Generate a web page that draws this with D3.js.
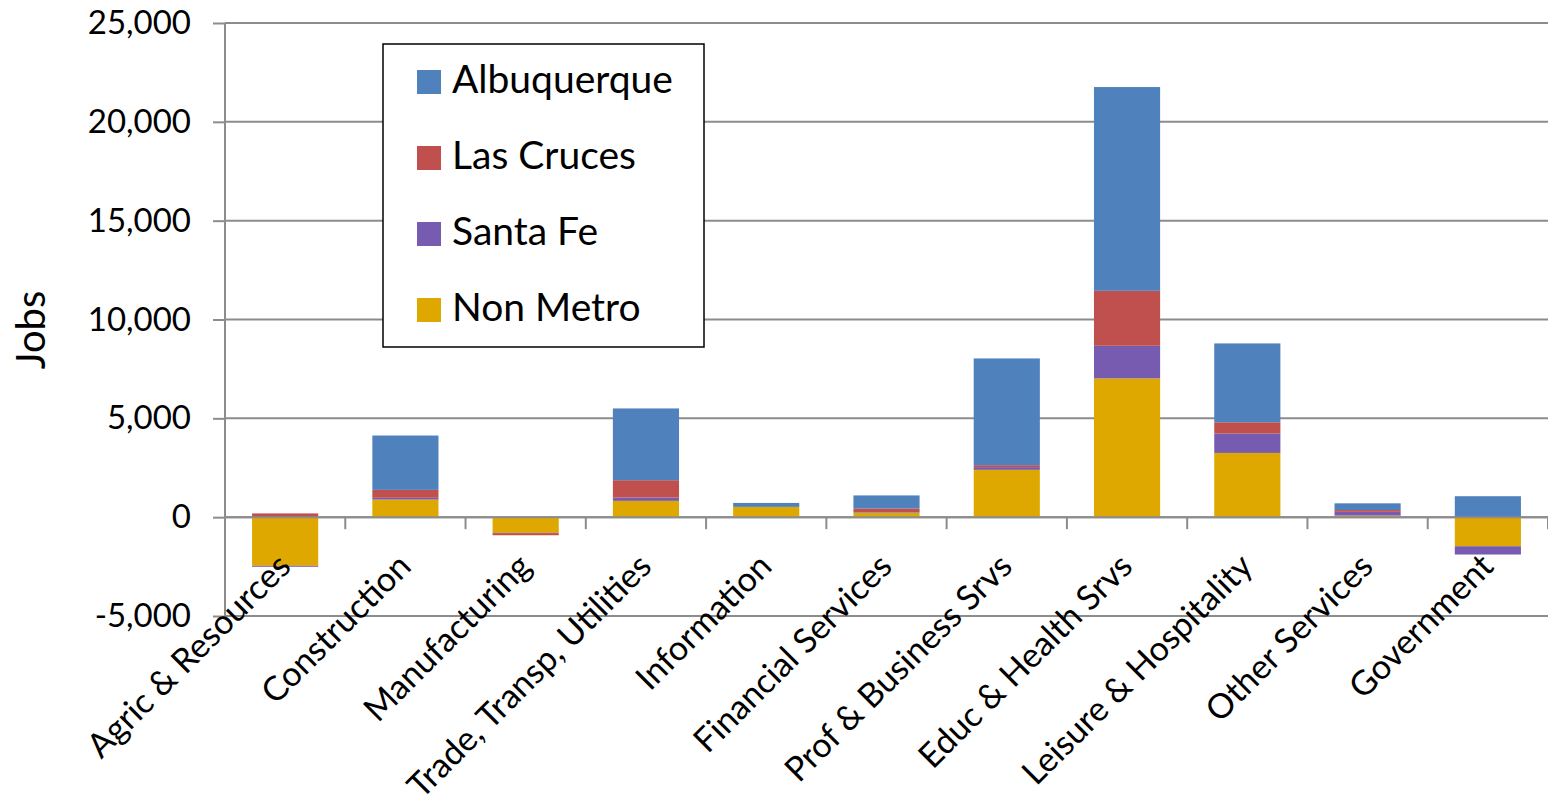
<!DOCTYPE html>
<html>
<head>
<meta charset="utf-8">
<script src="https://cdn.jsdelivr.net/npm/d3@7"></script>
<style>
  html, body { margin: 0; padding: 0; background: #fff; }
  svg { display: block; }
  text { font-family: Lato, "Open Sans", sans-serif; fill: #000; }
</style>
</head>
<body>
<svg id="chart" width="1548" height="805"></svg>
<script>
const categories = ["Agric & Resources", "Construction", "Manufacturing", "Trade, Transp, Utilities",
  "Information", "Financial Services", "Prof & Business Srvs", "Educ & Health Srvs",
  "Leisure & Hospitality", "Other Services", "Government"];
const nonMetro    = [-2460,  890, -790,  825, 520, 230, 2395, 7020, 3250,  80, -1470];
const santaFe     = [  -50,   90,  -15,  170,   0,  30,  135, 1650,  980, 190,  -420];
const lasCruces   = [  190,  400, -110,  875,   0, 180,  100, 2780,  570,  90,     0];
const albuquerque = [    0, 2750,    0, 3630, 200, 660, 5400, 10310, 3990, 340,  1060];
const seriesNames = ["Non Metro", "Santa Fe", "Las Cruces", "Albuquerque"];
const legendOrder = ["Albuquerque", "Las Cruces", "Santa Fe", "Non Metro"];
const yTicks = [-5000, 0, 5000, 10000, 15000, 20000, 25000];
const colors = { "Albuquerque": "#4f81bd", "Las Cruces": "#c0504d", "Santa Fe": "#775bb0", "Non Metro": "#dfa800" };

const seriesValues = { "Non Metro": nonMetro, "Santa Fe": santaFe, "Las Cruces": lasCruces, "Albuquerque": albuquerque };
const rows = categories.map((c, i) => {
  const r = { category: c };
  seriesNames.forEach(s => r[s] = seriesValues[s][i]);
  return r;
});

const svg = d3.select("#chart");
const pLeft = 225, pRight = 1548, pTop = 23, pBottom = 616;

const x = d3.scaleBand().domain(categories).range([pLeft, pRight]).paddingInner(0.45).paddingOuter(0.225);
const xb = d3.scaleBand().domain(categories).range([pLeft, pRight]);
const y = d3.scaleLinear().domain([-5000, 25000]).range([pBottom, pTop]);

// gridlines
svg.append("g").selectAll("line").data(yTicks).join("line")
  .attr("x1", pLeft).attr("x2", pRight)
  .attr("y1", d => y(d)).attr("y2", d => y(d))
  .attr("stroke", "#8c8c8c").attr("stroke-width", 2);

// bars
const stack = d3.stack().keys(seriesNames).offset(d3.stackOffsetDiverging);
const stacked = stack(rows);
svg.append("g").selectAll("g").data(stacked).join("g")
  .attr("fill", d => colors[d.key])
  .selectAll("rect").data(d => d).join("rect")
  .attr("x", d => x(d.data.category))
  .attr("width", x.bandwidth())
  .attr("y", d => y(Math.max(d[0], d[1])))
  .attr("height", d => Math.abs(y(d[0]) - y(d[1])));

// y axis
const locale = d3.formatLocale({ decimal: ".", thousands: ",", grouping: [3], currency: ["$", ""], minus: "-" });
const yAxis = d3.axisLeft(y).tickValues(yTicks).tickSize(12).tickPadding(22)
  .tickFormat(locale.format(","));
const gy = svg.append("g").attr("transform", `translate(${pLeft},0)`).call(yAxis);
gy.select(".domain").remove();
gy.selectAll(".tick line").attr("stroke", "#8c8c8c").attr("stroke-width", 2);
gy.selectAll(".tick text").style("font-size", "33px").style("font-family", "Lato, sans-serif").attr("fill", "#000");
svg.append("line").attr("x1", pLeft).attr("x2", pLeft).attr("y1", pTop).attr("y2", pBottom)
  .attr("stroke", "#8c8c8c").attr("stroke-width", 2);

// x axis at zero
const y0 = y(0);
svg.append("line").attr("x1", pLeft).attr("x2", pRight).attr("y1", y0).attr("y2", y0)
  .attr("stroke", "#8c8c8c").attr("stroke-width", 2);
svg.append("g").selectAll("line").data(categories).join("line")
  .attr("x1", d => xb(d) + xb.step()).attr("x2", d => xb(d) + xb.step())
  .attr("y1", y0).attr("y2", y0 + 12)
  .attr("stroke", "#8c8c8c").attr("stroke-width", 2);

// category labels
svg.append("g").selectAll("text").data(categories).join("text")
  .attr("transform", d => `translate(${x(d) + x.bandwidth() / 2 - 1},${560}) rotate(-45)`)
  .attr("text-anchor", "end")
  .attr("dy", "0.35em")
  .style("font-size", "34px")
  .text(d => d);

// y label
svg.append("text")
  .attr("transform", `translate(45,330) rotate(-90)`)
  .attr("text-anchor", "middle")
  .style("font-size", "40px")
  .text("Jobs");

// legend
const lg = svg.append("g");
lg.append("rect").attr("x", 383).attr("y", 44).attr("width", 321).attr("height", 303)
  .attr("fill", "#fff").attr("stroke", "#000").attr("stroke-width", 1.5);
const li = lg.selectAll("g.item").data(legendOrder).join("g").attr("class", "item")
  .attr("transform", (d, i) => `translate(417,${70 + i * 76})`);
li.append("rect").attr("width", 24).attr("height", 24).attr("fill", d => colors[d]);
li.append("text").attr("x", 35).attr("y", 23)
  .style("font-size", "39px").text(d => d);
</script>
</body>
</html>
